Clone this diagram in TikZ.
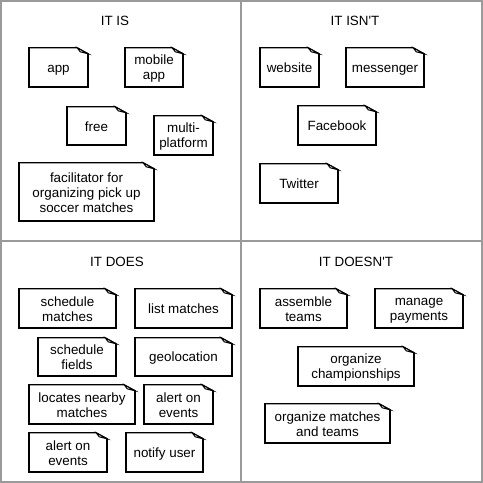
\documentclass[tikz,border=0pt]{standalone}
\usepackage{fontspec}
\setmainfont{Liberation Sans}
\usetikzlibrary{calc}
\definecolor{framegray}{HTML}{9A9A9A}
\newcommand\notetop{\rule{0pt}{12pt}}
\newcommand\notebot{\rule[-2pt]{0pt}{2pt}}
\tikzset{
  notebox/.style={minimum width=#1, inner sep=0pt, align=center,
    font=\fontsize{13.4}{15}\selectfont},
  notebox/.default=59,
  quadtitle/.style={anchor=base, inner sep=0pt, font=\fontsize{13.4}{15}\selectfont},
  notepen/.style={draw=black, line width=1.2pt, line join=miter},
  noteheavy/.style={draw=black, line width=2.2pt},
  framepen/.style={draw=framegray, line width=1.6pt}
}
\begin{document}
\begin{tikzpicture}[x=1pt,y=-1pt]
\useasboundingbox (0,0) rectangle (483,483);
\fill[white] (0,0) rectangle (483,483);
\draw[framepen] (0.8,0.8) rectangle (482.2,482.2);
\coordinate (vt) at (241,0); \coordinate (vb) at (241,483);
\coordinate (hl) at (0,241); \coordinate (hr) at (483,241);
\draw[framepen] (vt) -- (vb);
\draw[framepen] (hl) -- (hr);

% titles
\node[quadtitle] (t1) at (115,25.5) {IT IS};
\node[quadtitle] (t2) at (355,25.5) {IT ISN\textquotesingle T};
\node[quadtitle] (t3) at (117,266.5) {IT DOES};
\node[quadtitle] (t4) at (356,266.5) {IT DOESN\textquotesingle T};

% IT IS
\node[notebox=59, minimum height=39] (app) at (58.5,67.5) {\notetop app\notebot};
\node[notebox=58, minimum height=39] (mobile) at (154,67.5) {\notetop mobile\\app\notebot};
\node[notebox=59, minimum height=38] (free) at (96.5,126) {\notetop free\notebot};
\node[notebox=59, minimum height=39] (multi) at (183.5,135.5) {\notetop multi-\\platform\notebot};
\node[notebox=135, minimum height=58] (facil) at (86.5,192) {\notetop facilitator for\\organizing pick up\\soccer matches\notebot};

% IT ISN'T
\node[notebox=59, minimum height=39] (website) at (289.5,67.5) {\notetop website\notebot};
\node[notebox=78, minimum height=39] (messenger) at (385,67.5) {\notetop messenger\notebot};
\node[notebox=78, minimum height=39] (facebook) at (337,125.5) {\notetop Facebook\notebot};
\node[notebox=78, minimum height=39] (twitter) at (299,183.5) {\notetop Twitter\notebot};

% IT DOES
\node[notebox=97, minimum height=39] (schedm) at (67.5,308.5) {\notetop schedule\\matches\notebot};
\node[notebox=97, minimum height=39] (listm) at (183.5,308.5) {\notetop list matches\notebot};
\node[notebox=78, minimum height=38] (schedf) at (77,357) {\notetop schedule\\fields\notebot};
\node[notebox=97, minimum height=38] (geo) at (183.5,357) {\notetop geolocation\notebot};
\node[notebox=106, minimum height=39] (locates) at (82,404.5) {\notetop locates nearby\\matches\notebot};
\node[notebox=69, minimum height=39] (alertr) at (178.5,404.5) {\notetop alert on\\events\notebot};
\node[notebox=78, minimum height=39] (alertl) at (68,452.5) {\notetop alert on\\events\notebot};
\node[notebox=77, minimum height=39] (notify) at (164.5,452.5) {\notetop notify user\notebot};

% IT DOESN'T
\node[notebox=87, minimum height=39] (assemble) at (303.5,308.5) {\notetop assemble\\teams\notebot};
\node[notebox=88, minimum height=39] (manage) at (419,308.5) {\notetop manage\\payments\notebot};
\node[notebox=116, minimum height=39] (champ) at (356,366.5) {\notetop organize\\championships\notebot};
\node[notebox=125, minimum height=39] (orgmt) at (327.5,423.5) {\notetop organize matches\\and teams\notebot};

\foreach \n in {app,mobile,free,multi,facil,website,messenger,facebook,twitter,
  schedm,listm,schedf,geo,locates,alertr,alertl,notify,assemble,manage,champ,orgmt}{
  \draw[notepen] ($(\n.north east)+(-11,0)$) -- (\n.north west) -- (\n.south west)
     -- (\n.south east) -- ($(\n.north east)+(0,6)$) -- cycle;
  \draw[noteheavy, line cap=butt] ($(\n.north west)+(0,-0.5)$) -- (\n.south west) -- ($(\n.south east)+(0.5,0)$);
  \draw[notepen, line width=1.6pt] ($(\n.south east)+(0,0.5)$) -- ($(\n.north east)+(0,6)$);
  \draw[notepen, fill=white, line width=1pt] ($(\n.north east)+(-11,0)$) -- ($(\n.north east)+(0,6)$)
     -- ($(\n.north east)+(-8,4)$) -- cycle;
}
\end{tikzpicture}
\end{document}
